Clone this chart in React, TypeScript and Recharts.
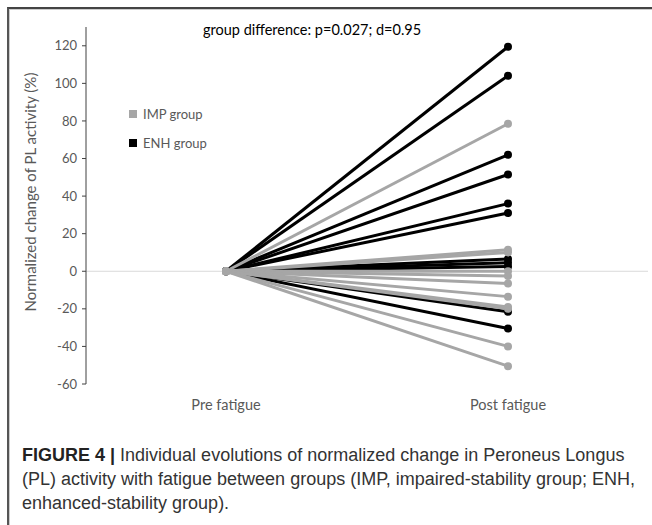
import React from 'react';
import { LineChart, Line, XAxis, YAxis, ReferenceLine } from 'recharts';

// categories on the x axis
const categories = ['Pre fatigue', 'Post fatigue'];

// normalized change (%) after fatigue, one value per subject; pre fatigue is always 0
const impPost = [78.5, 11.5, 10, 0, -2.5, -6.5, -13.5, -19, -20, -40, -50.5];
const enhPost = [119.5, 104, 62, 51.5, 36, 31, 6.5, 4.5, 2.5, -21.5, -30.5];
const prePost = 0;

const yTicks = [-60, -40, -20, 0, 20, 40, 60, 80, 100, 120];

const legendItems = [
  { label: 'IMP group', color: '#a6a6a6' },
  { label: 'ENH group', color: '#000000' },
];

const annotation = 'group difference: p=0.027; d=0.95';

const IMP_COLOR = '#a6a6a6';
const ENH_COLOR = '#000000';
const FONT = 'Lato, "Open Sans", sans-serif';

// build one row per category, one key per subject
const data = categories.map((cat, ci) => {
  const row: Record<string, string | number> = { cat };
  impPost.forEach((v, i) => {
    row[`imp${i}`] = ci === 0 ? prePost : v;
  });
  enhPost.forEach((v, i) => {
    row[`enh${i}`] = ci === 0 ? prePost : v;
  });
  return row;
});

const YLabel = () => (
  <text
    x={30}
    y={192}
    transform="rotate(-90 30 192)"
    textAnchor="middle"
    dominantBaseline="central"
    fill="#595959"
    fontSize={15}
    fontFamily={FONT}
  >
    Normalized change of PL activity (%)
  </text>
);

export default function App() {
  return (
    <div
      style={{
        position: 'absolute',
        left: 0,
        top: 0,
        width: 652,
        height: 525,
        background: '#fff',
        overflow: 'hidden',
      }}
    >
      {/* frame */}
      <div
        style={{
          position: 'absolute',
          left: 7,
          top: 7,
          width: 660,
          height: 540,
          borderTop: '2px solid #444',
          borderLeft: '2px solid #555',
          boxShadow: 'inset 1px 1px 0 #ccc',
        }}
      ></div>

      <div style={{ position: 'absolute', left: 0, top: 0 }}>
        <LineChart
          width={652}
          height={420}
          data={data}
          margin={{ top: 27, right: 4, left: 0, bottom: 6 }}
        >
          <XAxis
            dataKey="cat"
            axisLine={false}
            tickLine={false}
            tickMargin={10}
            height={30}
            padding={{ left: 140, right: 140 }}
            tick={{ fill: '#595959', fontSize: 14.5, fontFamily: FONT }}
          />
          <YAxis
            type="number"
            domain={[-60, 130]}
            ticks={yTicks}
            width={86}
            axisLine={{ stroke: '#404040', strokeWidth: 1 }}
            tickLine={{ stroke: '#404040' }}
            tickSize={4}
            tickMargin={5}
            tick={{ fill: '#595959', fontSize: 13, fontFamily: FONT }}
            label={<YLabel />}
          />
          <ReferenceLine y={0} stroke="#d9d9d9" strokeWidth={1} />
          {enhPost.map((_, i) => (
            <Line
              key={`enh${i}`}
              dataKey={`enh${i}`}
              type="linear"
              stroke={ENH_COLOR}
              strokeWidth={3}
              dot={{ r: 4, fill: ENH_COLOR, stroke: ENH_COLOR, strokeWidth: 0 }}
              isAnimationActive={false}
            />
          ))}
          {impPost.map((_, i) => (
            <Line
              key={`imp${i}`}
              dataKey={`imp${i}`}
              type="linear"
              stroke={IMP_COLOR}
              strokeWidth={3}
              dot={{ r: 4, fill: IMP_COLOR, stroke: IMP_COLOR, strokeWidth: 0 }}
              isAnimationActive={false}
            />
          ))}
        </LineChart>
      </div>

      {/* legend */}
      <div
        style={{
          position: 'absolute',
          left: 129,
          top: 99,
          fontFamily: FONT,
          fontSize: 13,
          color: '#595959',
        }}
      >
        {legendItems.map((item) => (
          <div key={item.label} style={{ display: 'flex', alignItems: 'center', height: 29 }}>
            <span
              style={{
                display: 'inline-block',
                width: 8,
                height: 8,
                background: item.color,
                marginRight: 6,
              }}
            ></span>
            {item.label}
          </div>
        ))}
      </div>

      {/* annotation */}
      <div
        style={{
          position: 'absolute',
          left: 203,
          top: 21,
          fontFamily: FONT,
          fontSize: 14.5,
          color: '#000',
          whiteSpace: 'nowrap',
        }}
      >
        {annotation}
      </div>

      {/* caption */}
      <div
        style={{
          position: 'absolute',
          left: 22,
          top: 443,
          width: 630,
          fontFamily: '"Liberation Sans", Arial, sans-serif',
          fontSize: 18,
          lineHeight: '24px',
          color: '#333',
          whiteSpace: 'nowrap',
        }}
      >
        <b style={{ color: '#222' }}>FIGURE 4 |</b> Individual evolutions of normalized change in Peroneus Longus
        <br />
        (PL) activity with fatigue between groups (IMP, impaired-stability group; ENH,
        <br />
        enhanced-stability group).
      </div>
    </div>
  );
}
